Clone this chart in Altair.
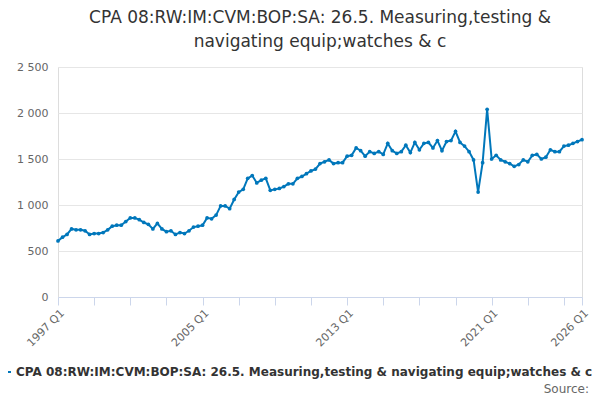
import altair as alt
import pandas as pd

values = [
    610, 650, 680, 740, 730, 730, 720, 680, 690, 690, 700, 730,
    770, 780, 780, 820, 860, 860, 840, 810, 790, 740, 800, 740,
    710, 720, 680, 700, 690, 720, 760, 770, 780, 860, 850, 890,
    990, 990, 960, 1060, 1140, 1170, 1290, 1320, 1240, 1270, 1290, 1160,
    1170, 1180, 1200, 1230, 1230, 1290, 1310, 1340, 1370, 1390, 1450, 1470,
    1490, 1450, 1460, 1460, 1530, 1540, 1620, 1590, 1530, 1580, 1560, 1580,
    1550, 1670, 1590, 1560, 1580, 1650, 1570, 1680, 1600, 1670, 1680, 1620,
    1700, 1590, 1690, 1700, 1800, 1680, 1640, 1580, 1490, 1140, 1460, 2040,
    1500, 1540, 1490, 1470, 1450, 1420, 1440, 1490, 1470, 1540, 1550, 1500,
    1520, 1600, 1580, 1580, 1640, 1650, 1670, 1690, 1710,
]
series = "CPA 08:RW:IM:CVM:BOP:SA: 26.5. Measuring,testing & navigating equip;watches & c"
labels = {0: "1997 Q1", 32: "2005 Q1", 64: "2013 Q1", 96: "2021 Q1", 116: "2026 Q1"}

df = pd.DataFrame({"i": range(len(values)), "value": values, "series": series})

label_expr = " : ".join(f"datum.value == {k} ? '{v}'" for k, v in labels.items()) + " : ''"

base = alt.Chart(df).encode(
    x=alt.X("i:Q", title=None, scale=alt.Scale(domain=[0, 116], nice=False, zero=False),
            axis=alt.Axis(values=list(range(0, 113, 8)) + [116], labelExpr=label_expr,
                          labelAngle=-45, labelColor="#666", labelFontSize=11, grid=False,
                          domainColor="#ccd6eb", tickColor="#ccd6eb", tickSize=8,
                          labelOverlap=False, labelPadding=2)),
    y=alt.Y("value:Q", title=None, scale=alt.Scale(domain=[0, 2500]),
            axis=alt.Axis(values=[0, 500, 1000, 1500, 2000, 2500],
                          labelExpr="replace(format(datum.value, ','), ',', ' ')",
                          labelColor="#666", labelFontSize=11, domain=False, ticks=False,
                          gridColor="#e6e6e6", labelPadding=10)),
    color=alt.Color("series:N", scale=alt.Scale(range=["#0077bb"]),
                    legend=alt.Legend(title=None, orient="none", legendX=-58, legendY=299,
                                      labelLimit=800, labelFontSize=12, labelFontWeight="bold",
                                      labelColor="#333", symbolType="stroke", symbolStrokeWidth=2)),
)

line = base.mark_line(strokeWidth=2, point=alt.OverlayMarkDef(size=14, filled=True))

source = alt.Chart(pd.DataFrame({"t": ["Source:"]})).mark_text(
    align="right", fontSize=12, color="#666"
).encode(x=alt.value(531), y=alt.value(322), text="t:N")

chart = (line + source).properties(
    width=524, height=230, autosize="none",
    padding={"left": 50, "top": 59, "right": 10, "bottom": 100},
    title=alt.TitleParams(["CPA 08:RW:IM:CVM:BOP:SA: 26.5. Measuring,testing &",
                           "navigating equip;watches & c"],
                          fontSize=17, fontWeight="normal", color="#333", font="DejaVu Sans",
                          anchor="middle", offset=10, lineHeight=24),
).configure_view(stroke=None).configure(font="DejaVu Sans")

chart.save("out.html", embed_options={"renderer": "svg", "actions": False})
